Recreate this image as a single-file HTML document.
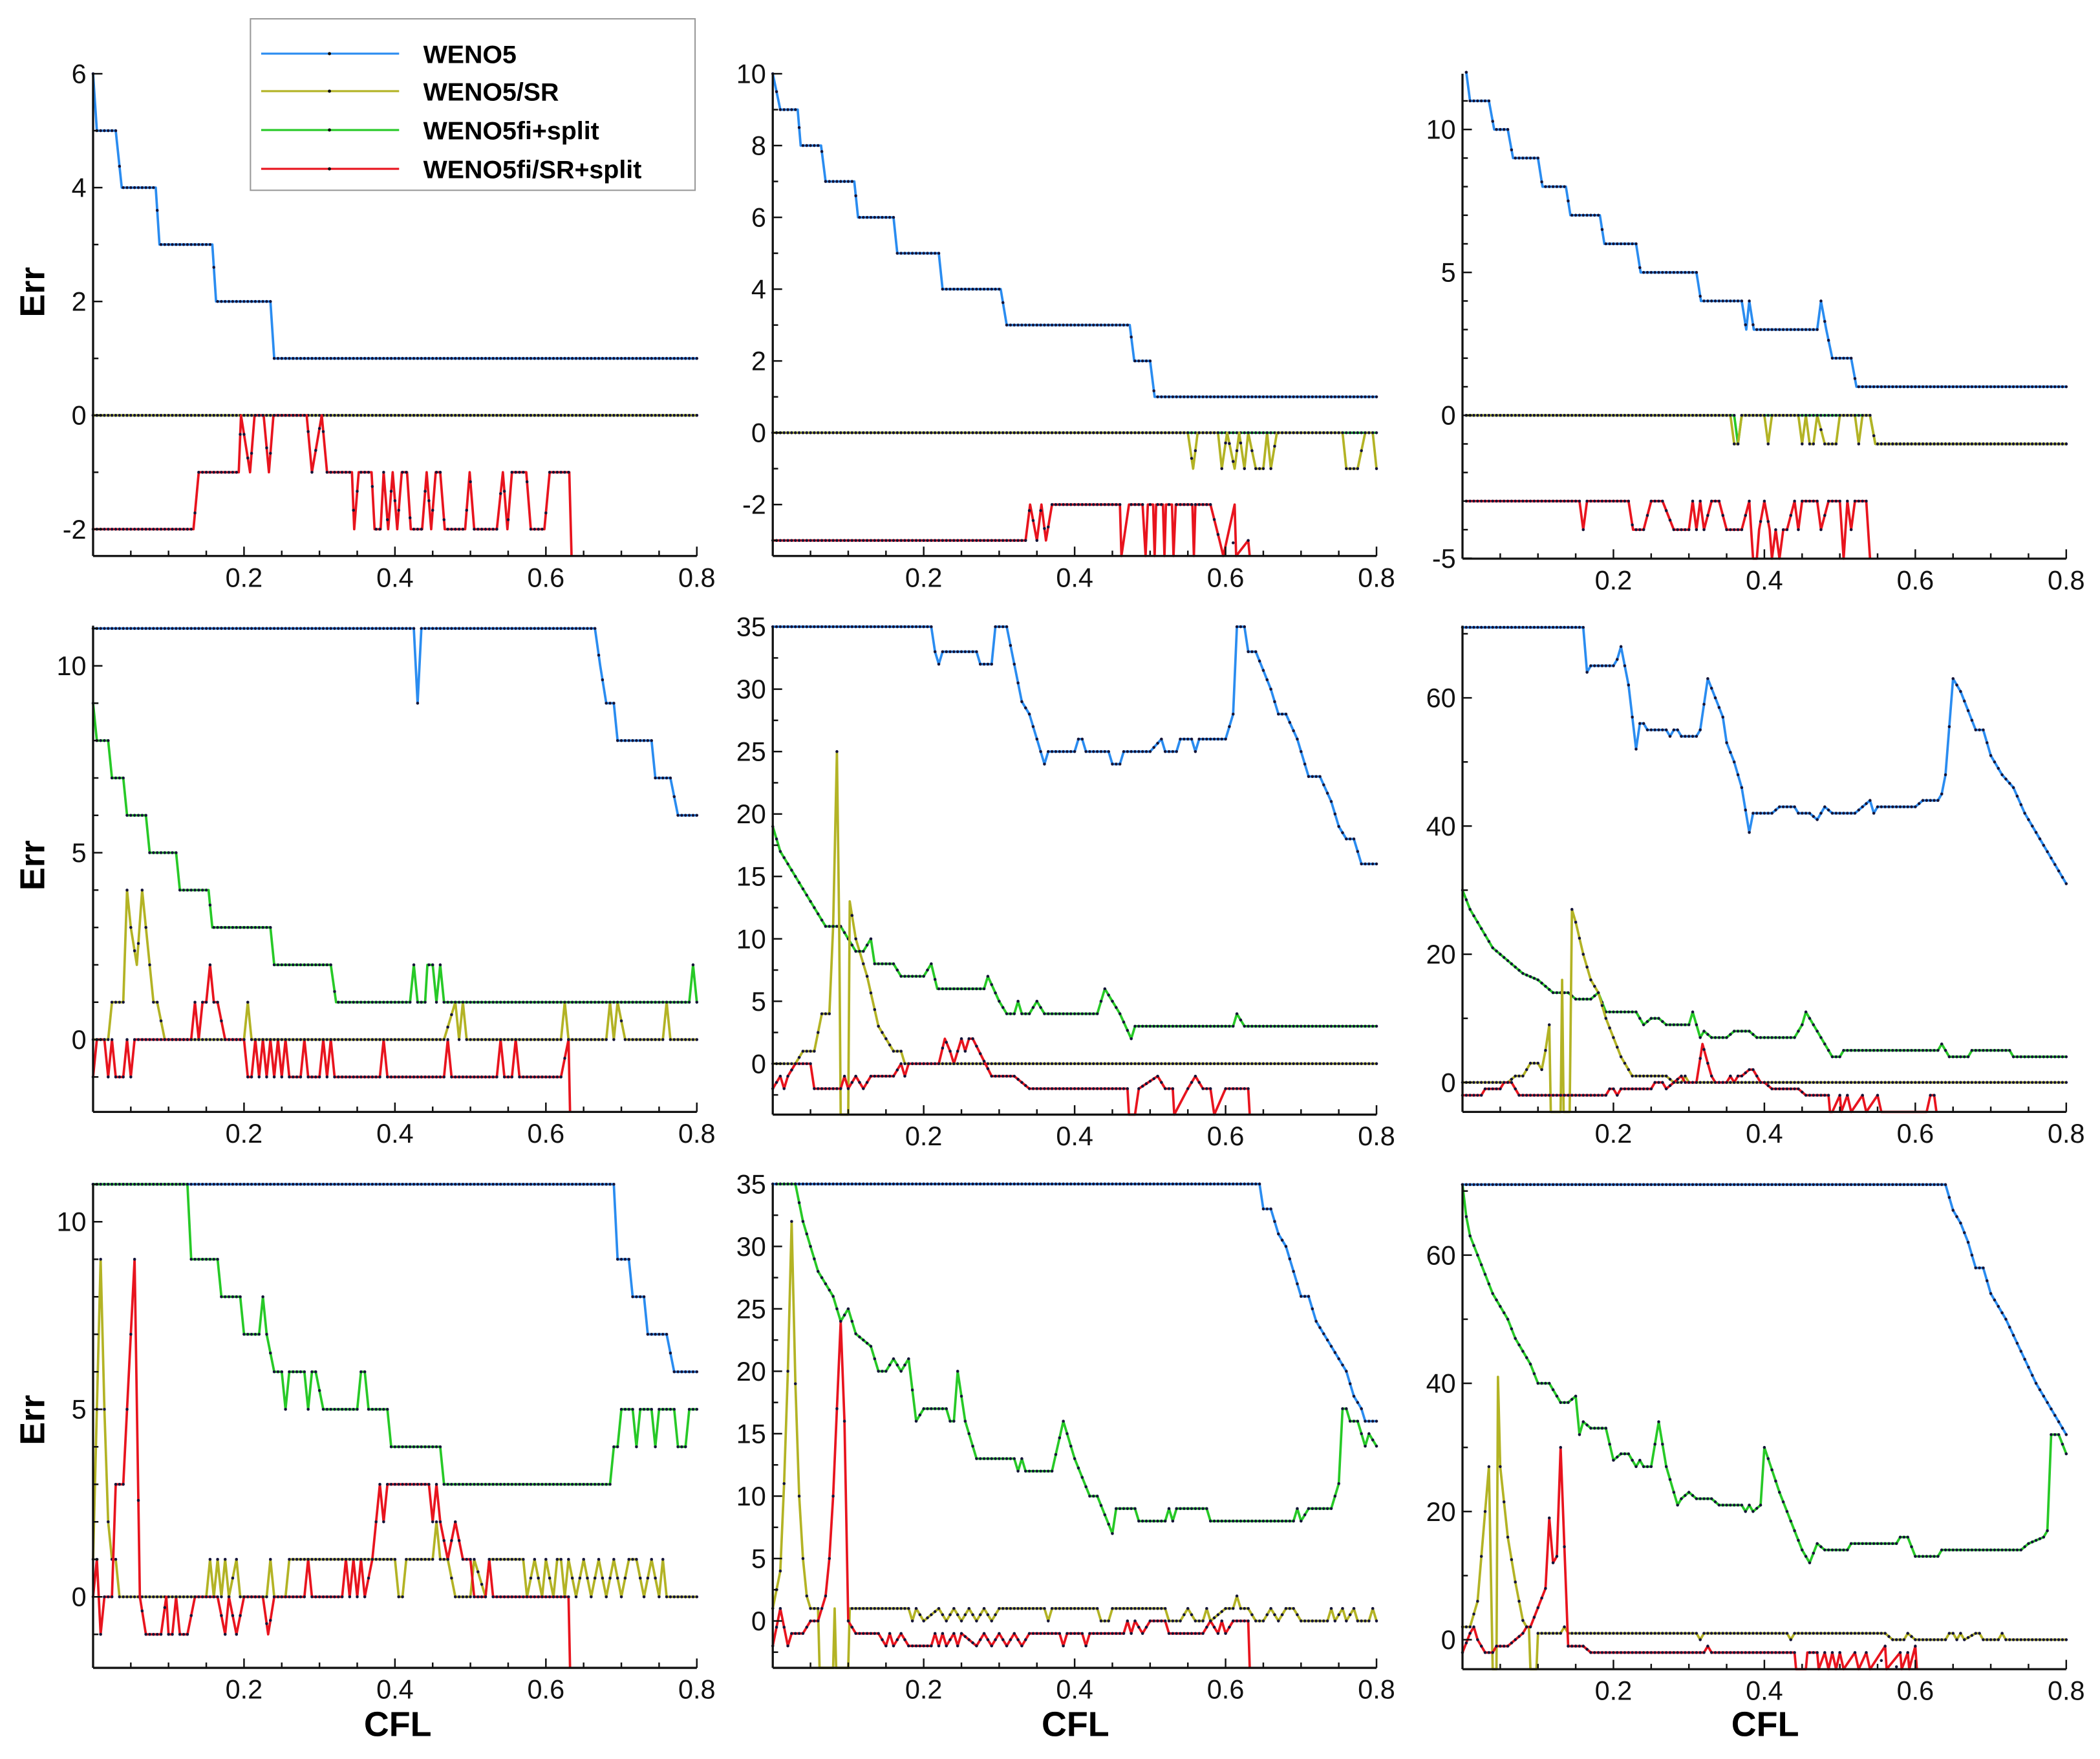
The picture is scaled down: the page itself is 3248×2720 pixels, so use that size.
<!DOCTYPE html>
<html><head><meta charset="utf-8">
<style>
html,body{margin:0;padding:0;background:#fff;width:3248px;height:2720px;overflow:hidden;}
svg{display:block;position:absolute;left:0;top:0;overflow:hidden;}
text{font-family:"Liberation Sans",Arial,sans-serif;}
</style></head>
<body>
<svg id="fig" width="3248" height="2720" viewBox="0 0 1568 1313" xmlns="http://www.w3.org/2000/svg">
<rect x="0" y="0" width="1568" height="1313" fill="#fff"/>
<g id="panels"></g>
<g id="legend">
  <rect x="187" y="14" width="332" height="128" fill="#fff" stroke="#999" stroke-width="1"/>
  <g><line x1="195" y1="40" x2="298" y2="40" stroke="#2a8cf0" stroke-width="1.5"/><circle cx="246" cy="40" r="1.2" fill="#111"/><text x="316" y="47" font-size="19" font-weight="bold">WENO5</text></g>
  <g><line x1="195" y1="68" x2="298" y2="68" stroke="#b3b325" stroke-width="1.5"/><circle cx="246" cy="68" r="1.2" fill="#111"/><text x="316" y="75" font-size="19" font-weight="bold">WENO5/SR</text></g>
  <g><line x1="195" y1="97" x2="298" y2="97" stroke="#27c927" stroke-width="1.5"/><circle cx="246" cy="97" r="1.2" fill="#111"/><text x="316" y="104" font-size="19" font-weight="bold">WENO5fi+split</text></g>
  <g><line x1="195" y1="126" x2="298" y2="126" stroke="#e8141e" stroke-width="1.5"/><circle cx="246" cy="126" r="1.2" fill="#111"/><text x="316" y="133" font-size="19" font-weight="bold">WENO5fi/SR+split</text></g>
</g>
<text x="0" y="0" font-size="26" font-weight="bold" text-anchor="middle" transform="translate(33,218) rotate(-90)">Err</text>
<text x="0" y="0" font-size="26" font-weight="bold" text-anchor="middle" transform="translate(33,646) rotate(-90)">Err</text>
<text x="0" y="0" font-size="26" font-weight="bold" text-anchor="middle" transform="translate(33,1060) rotate(-90)">Err</text>
<text x="297" y="1296" font-size="26" font-weight="bold" text-anchor="middle">CFL</text>
<text x="803" y="1296" font-size="26" font-weight="bold" text-anchor="middle">CFL</text>
<text x="1318" y="1296" font-size="26" font-weight="bold" text-anchor="middle">CFL</text>
</svg>
<script>
// ---- data: [CFL, Err] pairs ----
const xTicks = [0.2, 0.4, 0.6, 0.8];
const xTickLabels = ["0.2", "0.4", "0.6", "0.8"];

const p1Weno5 = [[0,6],[0.005,5],[0.03,5],[0.038,4],[0.083,4],[0.088,3],[0.158,3],[0.163,2],[0.235,2],[0.24,1],[0.8,1]];
const p1SR = [[0,0],[0.8,0]];
const p1Split = [[0,0],[0.8,0]];
const p1SRSplit = [[0,-2],[0.133,-2],[0.14,-1],[0.193,-1],[0.196,0],[0.208,-1],[0.214,0],[0.226,0],[0.233,-1],[0.239,0],[0.283,0],[0.29,-1],[0.303,0],[0.31,-1],[0.343,-1],[0.346,-2],[0.352,-1],[0.369,-1],[0.373,-2],[0.381,-2],[0.385,-1],[0.391,-2],[0.397,-1],[0.403,-2],[0.409,-1],[0.416,-1],[0.421,-2],[0.436,-2],[0.442,-1],[0.448,-2],[0.454,-1],[0.46,-1],[0.466,-2],[0.493,-2],[0.499,-1],[0.505,-2],[0.535,-2],[0.543,-1],[0.549,-2],[0.555,-1],[0.574,-1],[0.58,-2],[0.598,-2],[0.605,-1],[0.631,-1],[0.634,-10]];
const p1YTicks = [-2,0,2,4,6];

const p2Weno5 = [[0,10],[0.01,9],[0.033,9],[0.037,8],[0.064,8],[0.07,7],[0.108,7],[0.113,6],[0.16,6],[0.165,5],[0.22,5],[0.225,4],[0.302,4],[0.31,3],[0.473,3],[0.479,2],[0.5,2],[0.506,1],[0.8,1]];
const p2SR = [[0,0],[0.55,0],[0.557,-1],[0.563,0],[0.59,0],[0.595,-1],[0.602,0],[0.612,-1],[0.618,0],[0.625,-1],[0.63,0],[0.64,-1],[0.65,-1],[0.655,0],[0.66,-1],[0.668,0],[0.755,0],[0.76,-1],[0.775,-1],[0.785,0],[0.795,0],[0.8,-1]];
const p2Split = [[0,0],[0.8,0]];
const p2SRSplit = [[0,-3],[0.335,-3],[0.341,-2],[0.35,-3],[0.356,-2],[0.362,-3],[0.37,-2],[0.46,-2],[0.462,-10],[0.472,-2],[0.49,-2],[0.494,-10],[0.497,-2],[0.504,-2],[0.506,-10],[0.508,-2],[0.517,-2],[0.519,-10],[0.521,-2],[0.529,-2],[0.531,-10],[0.534,-2],[0.556,-2],[0.558,-10],[0.56,-2],[0.57,-2],[0.58,-2],[0.592,-3],[0.597,-10],[0.612,-2],[0.614,-10],[0.63,-3],[0.632,-10]];
const p2YTicks = [-2,0,2,4,6,8,10];

const p3Weno5 = [[0.005,12],[0.01,11],[0.035,11],[0.042,10],[0.06,10],[0.067,9],[0.1,9],[0.106,8],[0.137,8],[0.143,7],[0.182,7],[0.188,6],[0.23,6],[0.236,5],[0.31,5],[0.316,4],[0.37,4],[0.376,3],[0.38,4],[0.386,3],[0.47,3],[0.475,4],[0.482,3],[0.49,2],[0.515,2],[0.522,1],[0.8,1]];
const p3SR = [[0.005,0],[0.355,0],[0.36,-1],[0.365,-1],[0.37,0],[0.4,0],[0.405,-1],[0.41,0],[0.445,0],[0.45,-1],[0.455,0],[0.46,-1],[0.465,-1],[0.47,0],[0.48,-1],[0.495,-1],[0.5,0],[0.52,0],[0.525,-1],[0.53,0],[0.54,0],[0.547,-1],[0.8,-1]];
const p3Split = [[0.005,0],[0.36,0],[0.365,-1],[0.37,0],[0.54,0],[0.547,-1],[0.8,-1]];
const p3SRSplit = [[0.005,-3],[0.155,-3],[0.16,-4],[0.165,-3],[0.22,-3],[0.226,-4],[0.24,-4],[0.25,-3],[0.265,-3],[0.28,-4],[0.3,-4],[0.305,-3],[0.31,-4],[0.315,-3],[0.32,-4],[0.33,-3],[0.34,-3],[0.35,-4],[0.37,-4],[0.38,-3],[0.385,-10],[0.39,-10],[0.393,-4],[0.4,-3],[0.407,-4],[0.41,-10],[0.415,-4],[0.42,-10],[0.425,-4],[0.43,-4],[0.44,-3],[0.445,-4],[0.45,-3],[0.47,-3],[0.475,-4],[0.485,-3],[0.5,-3],[0.505,-10],[0.51,-3],[0.515,-4],[0.52,-3],[0.535,-3],[0.54,-10]];
const p3YTicks = [-5,0,5,10];

const p4Weno5 = [[0,11],[0.425,11],[0.43,9],[0.435,11],[0.665,11],[0.672,10],[0.68,9],[0.69,9],[0.695,8],[0.74,8],[0.745,7],[0.765,7],[0.775,6],[0.8,6]];
const p4SR = [[0,0],[0.02,0],[0.025,1],[0.04,1],[0.045,4],[0.05,3],[0.058,2],[0.065,4],[0.07,3],[0.08,1],[0.085,1],[0.095,0],[0.2,0],[0.205,1],[0.21,0],[0.465,0],[0.48,1],[0.485,0],[0.49,1],[0.495,0],[0.62,0],[0.625,1],[0.63,0],[0.68,0],[0.685,1],[0.69,0],[0.695,1],[0.705,0],[0.755,0],[0.76,1],[0.765,0],[0.8,0]];
const p4Split = [[0,9],[0.005,8],[0.02,8],[0.025,7],[0.04,7],[0.045,6],[0.07,6],[0.075,5],[0.11,5],[0.115,4],[0.153,4],[0.158,3],[0.235,3],[0.24,2],[0.315,2],[0.322,1],[0.42,1],[0.425,2],[0.43,1],[0.44,1],[0.443,2],[0.45,2],[0.455,1],[0.46,2],[0.465,1],[0.79,1],[0.795,2],[0.8,1]];
const p4SRSplit = [[0,-1],[0.005,0],[0.015,0],[0.02,-1],[0.025,0],[0.03,-1],[0.04,-1],[0.045,0],[0.05,-1],[0.055,0],[0.13,0],[0.135,1],[0.14,0],[0.145,1],[0.15,1],[0.155,2],[0.16,1],[0.165,1],[0.175,0],[0.2,0],[0.205,-1],[0.21,-1],[0.215,0],[0.22,-1],[0.225,0],[0.23,-1],[0.235,0],[0.24,-1],[0.245,0],[0.25,-1],[0.255,0],[0.26,-1],[0.275,-1],[0.28,0],[0.285,-1],[0.3,-1],[0.305,0],[0.31,-1],[0.315,0],[0.32,-1],[0.38,-1],[0.385,0],[0.39,-1],[0.465,-1],[0.47,0],[0.475,-1],[0.535,-1],[0.54,0],[0.545,-1],[0.555,-1],[0.56,0],[0.565,-1],[0.62,-1],[0.63,0],[0.632,-10]];
const p4YTicks = [0,5,10];

const p5Weno5 = [[0,35],[0.21,35],[0.215,33],[0.22,32],[0.225,33],[0.27,33],[0.275,32],[0.29,32],[0.295,35],[0.31,35],[0.32,32],[0.33,29],[0.34,28],[0.35,26],[0.36,24],[0.365,25],[0.4,25],[0.405,26],[0.41,26],[0.415,25],[0.445,25],[0.45,24],[0.46,24],[0.465,25],[0.5,25],[0.515,26],[0.52,25],[0.535,25],[0.54,26],[0.555,26],[0.56,25],[0.565,26],[0.6,26],[0.605,27],[0.61,28],[0.615,35],[0.625,35],[0.63,33],[0.64,33],[0.66,30],[0.67,28],[0.68,28],[0.695,26],[0.71,23],[0.725,23],[0.74,21],[0.75,19],[0.76,18],[0.77,18],[0.78,16],[0.8,16]];
const p5SR = [[0,0],[0.03,0],[0.04,1],[0.055,1],[0.065,4],[0.075,4],[0.08,11],[0.085,25],[0.088,11],[0.09,-10],[0.1,-10],[0.102,13],[0.11,10],[0.125,7],[0.14,3],[0.15,2],[0.16,1],[0.17,1],[0.175,0],[0.8,0]];
const p5Split = [[0,19],[0.01,17],[0.02,16],[0.03,15],[0.04,14],[0.05,13],[0.06,12],[0.07,11],[0.09,11],[0.1,10],[0.11,9],[0.12,9],[0.13,10],[0.135,8],[0.16,8],[0.17,7],[0.2,7],[0.21,8],[0.218,6],[0.28,6],[0.285,7],[0.3,5],[0.31,4],[0.32,4],[0.325,5],[0.33,4],[0.34,4],[0.35,5],[0.36,4],[0.43,4],[0.44,6],[0.45,5],[0.46,4],[0.475,2],[0.48,3],[0.61,3],[0.615,4],[0.625,3],[0.8,3]];
const p5SRSplit = [[0,-2],[0.01,-1],[0.015,-2],[0.02,-1],[0.03,0],[0.05,0],[0.055,-2],[0.09,-2],[0.095,-1],[0.1,-2],[0.11,-1],[0.12,-2],[0.13,-1],[0.16,-1],[0.17,0],[0.175,-1],[0.18,0],[0.22,0],[0.228,2],[0.235,1],[0.24,0],[0.25,2],[0.255,1],[0.26,2],[0.265,2],[0.29,-1],[0.32,-1],[0.34,-2],[0.47,-2],[0.472,-10],[0.48,-10],[0.485,-2],[0.51,-1],[0.52,-2],[0.53,-2],[0.532,-10],[0.55,-2],[0.56,-1],[0.57,-2],[0.58,-2],[0.585,-10],[0.6,-2],[0.63,-2],[0.632,-10]];
const p5YTicks = [0,5,10,15,20,25,30,35];

const p6Weno5 = [[0,71],[0.16,71],[0.165,64],[0.17,65],[0.2,65],[0.205,66],[0.21,68],[0.22,62],[0.225,57],[0.23,52],[0.235,56],[0.24,56],[0.245,55],[0.27,55],[0.275,54],[0.28,55],[0.285,55],[0.29,54],[0.31,54],[0.315,55],[0.325,63],[0.335,60],[0.345,57],[0.35,53],[0.36,50],[0.37,46],[0.38,39],[0.385,42],[0.41,42],[0.42,43],[0.44,43],[0.445,42],[0.46,42],[0.47,41],[0.48,43],[0.49,42],[0.52,42],[0.53,43],[0.54,44],[0.545,42],[0.55,43],[0.6,43],[0.61,44],[0.63,44],[0.635,45],[0.64,48],[0.65,63],[0.66,61],[0.67,58],[0.68,55],[0.69,55],[0.7,51],[0.715,48],[0.73,46],[0.745,42],[0.76,39],[0.775,36],[0.79,33],[0.8,31]];
const p6SR = [[0,0],[0.06,0],[0.07,1],[0.08,1],[0.09,3],[0.1,3],[0.105,2],[0.11,5],[0.115,9],[0.117,-10],[0.13,-10],[0.132,16],[0.134,-10],[0.142,-10],[0.145,27],[0.15,25],[0.16,20],[0.17,16],[0.18,14],[0.19,10],[0.2,7],[0.21,4],[0.215,3],[0.225,1],[0.27,1],[0.28,0],[0.29,0],[0.295,1],[0.3,0],[0.8,0]];
const p6Split = [[0,30],[0.01,27],[0.02,25],[0.03,23],[0.04,21],[0.05,20],[0.06,19],[0.07,18],[0.08,17],[0.1,16],[0.12,14],[0.14,14],[0.15,13],[0.17,13],[0.18,14],[0.19,11],[0.23,11],[0.24,9],[0.25,10],[0.26,10],[0.27,9],[0.3,9],[0.305,11],[0.315,7],[0.32,8],[0.33,7],[0.35,7],[0.36,8],[0.38,8],[0.39,7],[0.44,7],[0.45,9],[0.455,11],[0.47,8],[0.49,4],[0.5,4],[0.505,5],[0.63,5],[0.635,6],[0.645,4],[0.67,4],[0.675,5],[0.725,5],[0.73,4],[0.8,4]];
const p6SRSplit = [[0,-2],[0.025,-2],[0.03,-1],[0.05,-1],[0.055,0],[0.065,0],[0.075,-2],[0.19,-2],[0.195,-1],[0.2,-1],[0.205,-2],[0.21,-1],[0.25,-1],[0.255,0],[0.265,0],[0.27,-1],[0.28,0],[0.29,1],[0.295,0],[0.31,0],[0.318,6],[0.325,3],[0.33,1],[0.335,0],[0.35,0],[0.355,1],[0.36,0],[0.365,1],[0.37,1],[0.38,2],[0.385,2],[0.395,0],[0.4,0],[0.41,-1],[0.445,-1],[0.455,-2],[0.485,-2],[0.487,-10],[0.49,-10],[0.5,-2],[0.502,-10],[0.51,-2],[0.515,-10],[0.53,-2],[0.535,-10],[0.55,-2],[0.555,-10],[0.615,-10],[0.62,-2],[0.625,-2],[0.628,-10]];
const p6YTicks = [0,20,40,60];

const p7Weno5 = [[0,11],[0.69,11],[0.695,9],[0.71,9],[0.715,8],[0.73,8],[0.735,7],[0.76,7],[0.77,6],[0.8,6]];
const p7SR = [[0,1],[0.005,5],[0.01,9],[0.015,5],[0.02,2],[0.025,1],[0.03,1],[0.035,0],[0.15,0],[0.155,1],[0.16,0],[0.165,1],[0.17,0],[0.175,1],[0.18,0],[0.19,1],[0.195,0],[0.23,0],[0.235,1],[0.24,0],[0.255,0],[0.26,1],[0.4,1],[0.405,0],[0.41,0],[0.415,1],[0.45,1],[0.455,2],[0.46,1],[0.47,1],[0.48,0],[0.5,0],[0.505,1],[0.52,0],[0.525,1],[0.57,1],[0.575,0],[0.585,1],[0.595,0],[0.6,1],[0.61,0],[0.615,1],[0.62,1],[0.625,0],[0.63,1],[0.64,0],[0.65,1],[0.66,0],[0.67,1],[0.68,0],[0.69,1],[0.7,0],[0.71,1],[0.72,1],[0.73,0],[0.74,1],[0.75,0],[0.755,1],[0.76,0],[0.8,0]];
const p7Split = [[0,11],[0.125,11],[0.13,9],[0.165,9],[0.17,8],[0.195,8],[0.2,7],[0.22,7],[0.225,8],[0.23,7],[0.24,6],[0.25,6],[0.255,5],[0.26,6],[0.28,6],[0.285,5],[0.29,6],[0.295,6],[0.305,5],[0.35,5],[0.355,6],[0.36,6],[0.365,5],[0.39,5],[0.395,4],[0.46,4],[0.465,3],[0.685,3],[0.69,4],[0.695,4],[0.7,5],[0.715,5],[0.72,4],[0.725,5],[0.74,5],[0.745,4],[0.75,5],[0.77,5],[0.775,4],[0.785,4],[0.79,5],[0.8,5]];
const p7SRSplit = [[0,0],[0.005,1],[0.01,-1],[0.015,0],[0.025,0],[0.03,3],[0.04,3],[0.045,5],[0.055,9],[0.062,0],[0.07,-1],[0.09,-1],[0.097,0],[0.1,-1],[0.105,-1],[0.11,0],[0.115,-1],[0.125,-1],[0.135,0],[0.165,0],[0.175,-1],[0.18,0],[0.19,-1],[0.2,0],[0.225,0],[0.232,-1],[0.24,0],[0.28,0],[0.285,1],[0.29,0],[0.33,0],[0.335,1],[0.34,0],[0.345,1],[0.35,0],[0.355,1],[0.36,0],[0.37,1],[0.38,3],[0.385,2],[0.39,3],[0.445,3],[0.45,2],[0.455,3],[0.46,2],[0.47,1],[0.48,2],[0.49,1],[0.5,1],[0.505,0],[0.52,0],[0.525,1],[0.53,0],[0.63,0],[0.632,-10]];
const p7YTicks = [0,5,10];

const p8Weno5 = [[0,35],[0.645,35],[0.65,33],[0.66,33],[0.67,31],[0.68,30],[0.69,28],[0.7,26],[0.71,26],[0.72,24],[0.73,23],[0.74,22],[0.75,21],[0.76,20],[0.77,18],[0.78,17],[0.785,16],[0.8,16]];
const p8SR = [[0,1],[0.01,4],[0.015,11],[0.02,20],[0.025,32],[0.03,19],[0.035,10],[0.04,5],[0.045,2],[0.05,1],[0.06,1],[0.062,-10],[0.08,-10],[0.082,1],[0.084,-10],[0.1,-10],[0.102,1],[0.18,1],[0.185,0],[0.19,1],[0.2,0],[0.22,1],[0.23,0],[0.24,1],[0.25,0],[0.26,1],[0.27,0],[0.28,1],[0.29,0],[0.3,1],[0.36,1],[0.365,0],[0.37,1],[0.43,1],[0.435,0],[0.445,0],[0.45,1],[0.52,1],[0.525,0],[0.54,0],[0.55,1],[0.56,0],[0.57,0],[0.575,1],[0.58,0],[0.6,1],[0.61,1],[0.615,2],[0.62,1],[0.63,1],[0.64,0],[0.65,0],[0.66,1],[0.67,0],[0.68,1],[0.69,1],[0.7,0],[0.735,0],[0.74,1],[0.745,0],[0.755,1],[0.76,0],[0.77,1],[0.775,0],[0.79,0],[0.795,1],[0.8,0]];
const p8Split = [[0.005,35],[0.03,35],[0.04,32],[0.05,30],[0.06,28],[0.07,27],[0.08,26],[0.09,24],[0.1,25],[0.11,23],[0.13,22],[0.14,20],[0.15,20],[0.16,21],[0.17,20],[0.18,21],[0.19,16],[0.2,17],[0.23,17],[0.235,16],[0.24,16],[0.245,20],[0.255,16],[0.27,13],[0.32,13],[0.325,12],[0.33,13],[0.335,12],[0.37,12],[0.385,16],[0.4,13],[0.42,10],[0.43,10],[0.45,7],[0.455,9],[0.48,9],[0.485,8],[0.52,8],[0.525,9],[0.53,8],[0.535,9],[0.575,9],[0.58,8],[0.69,8],[0.695,9],[0.7,8],[0.71,9],[0.74,9],[0.75,11],[0.755,17],[0.76,17],[0.765,16],[0.775,16],[0.785,14],[0.79,15],[0.8,14]];
const p8SRSplit = [[0,-2],[0.01,1],[0.02,-2],[0.025,-1],[0.04,-1],[0.05,0],[0.06,0],[0.07,2],[0.075,5],[0.08,10],[0.085,17],[0.09,24],[0.095,16],[0.1,0],[0.11,-1],[0.14,-1],[0.15,-2],[0.155,-1],[0.16,-2],[0.17,-1],[0.18,-2],[0.21,-2],[0.215,-1],[0.22,-2],[0.225,-1],[0.23,-2],[0.24,-1],[0.245,-2],[0.25,-1],[0.27,-2],[0.28,-1],[0.29,-2],[0.3,-1],[0.31,-2],[0.32,-1],[0.33,-2],[0.34,-1],[0.38,-1],[0.385,-2],[0.39,-1],[0.41,-1],[0.415,-2],[0.42,-1],[0.465,-1],[0.47,0],[0.475,-1],[0.48,0],[0.49,-1],[0.5,0],[0.52,0],[0.525,-1],[0.57,-1],[0.58,0],[0.59,-1],[0.595,0],[0.6,-1],[0.61,0],[0.63,0],[0.632,-10]];
const p8YTicks = [0,5,10,15,20,25,30,35];

const p9Weno5 = [[0,71],[0.64,71],[0.65,67],[0.66,65],[0.67,62],[0.68,58],[0.69,58],[0.7,54],[0.72,50],[0.74,45],[0.76,40],[0.78,36],[0.8,32]];
const p9SR = [[0,2],[0.01,2],[0.02,6],[0.03,20],[0.035,27],[0.04,-10],[0.045,-10],[0.047,41],[0.05,27],[0.06,16],[0.07,9],[0.08,3],[0.085,2],[0.088,2],[0.09,-10],[0.098,-10],[0.1,1],[0.13,1],[0.135,2],[0.14,1],[0.31,1],[0.315,0],[0.32,1],[0.43,1],[0.435,0],[0.44,1],[0.56,1],[0.57,0],[0.585,0],[0.59,1],[0.6,0],[0.64,0],[0.645,1],[0.65,1],[0.655,0],[0.66,1],[0.665,0],[0.68,1],[0.685,1],[0.69,0],[0.71,0],[0.715,1],[0.72,0],[0.8,0]];
const p9Split = [[0,71],[0.005,66],[0.01,63],[0.02,60],[0.03,57],[0.04,54],[0.05,52],[0.06,50],[0.07,47],[0.08,45],[0.09,43],[0.1,40],[0.115,40],[0.12,39],[0.13,37],[0.14,37],[0.15,38],[0.155,32],[0.16,34],[0.17,33],[0.19,33],[0.2,28],[0.21,29],[0.22,29],[0.23,27],[0.235,28],[0.24,27],[0.25,27],[0.26,34],[0.27,27],[0.285,21],[0.29,22],[0.3,23],[0.31,22],[0.33,22],[0.34,21],[0.37,21],[0.375,20],[0.38,21],[0.385,20],[0.395,21],[0.4,30],[0.42,23],[0.44,17],[0.45,14],[0.46,12],[0.47,15],[0.48,14],[0.51,14],[0.515,15],[0.575,15],[0.58,16],[0.59,16],[0.6,13],[0.63,13],[0.635,14],[0.74,14],[0.75,15],[0.77,16],[0.775,17],[0.78,32],[0.79,32],[0.8,29]];
const p9SRSplit = [[0,-2],[0.01,1],[0.015,2],[0.02,0],[0.03,-2],[0.04,-2],[0.045,-1],[0.06,-1],[0.07,0],[0.08,1],[0.085,2],[0.09,2],[0.1,5],[0.11,8],[0.115,19],[0.12,12],[0.125,13],[0.13,30],[0.14,-1],[0.16,-1],[0.17,-2],[0.32,-2],[0.325,-1],[0.33,-2],[0.44,-2],[0.442,-10],[0.455,-10],[0.457,-2],[0.47,-2],[0.472,-10],[0.48,-2],[0.485,-10],[0.49,-2],[0.495,-10],[0.5,-2],[0.505,-10],[0.52,-2],[0.525,-10],[0.535,-2],[0.54,-10],[0.56,-1],[0.562,-10],[0.58,-2],[0.582,-10],[0.59,-2],[0.592,-10],[0.6,-1],[0.602,-10]];
const p9YTicks = [0,20,40,60];

// ---- layout (display units) ----
const NS = "http://www.w3.org/2000/svg";
const colX0 = [69.5, 577, 1092];
const xPerUnit = 563.5;
const seriesColors = ["#2a8cf0", "#b3b325", "#27c927", "#e8141e"];
const panels = [
 {id:1,col:0,y0:310,k:42.5,top:55,bot:415,ticks:p1YTicks,minor:1,s:[p1Weno5,p1SR,p1Split,p1SRSplit]},
 {id:2,col:1,y0:323,k:26.8,top:55,bot:415,ticks:p2YTicks,minor:1,s:[p2Weno5,p2SR,p2Split,p2SRSplit]},
 {id:3,col:2,y0:310,k:21.34,top:55,bot:417,ticks:p3YTicks,minor:1,s:[p3Weno5,p3SR,p3Split,p3SRSplit]},
 {id:4,col:0,y0:776,k:27.9,top:467,bot:830,ticks:p4YTicks,minor:1,s:[p4Weno5,p4SR,p4Split,p4SRSplit]},
 {id:5,col:1,y0:794,k:9.32,top:468,bot:832,ticks:p5YTicks,minor:2.5,s:[p5Weno5,p5SR,p5Split,p5SRSplit]},
 {id:6,col:2,y0:808,k:4.785,top:467,bot:830,ticks:p6YTicks,minor:10,s:[p6Weno5,p6SR,p6Split,p6SRSplit]},
 {id:7,col:0,y0:1192,k:28,top:884,bot:1245,ticks:p7YTicks,minor:1,s:[p7Weno5,p7SR,p7Split,p7SRSplit]},
 {id:8,col:1,y0:1210,k:9.32,top:884,bot:1245,ticks:p8YTicks,minor:2.5,s:[p8Weno5,p8SR,p8Split,p8SRSplit]},
 {id:9,col:2,y0:1224,k:4.785,top:884,bot:1246,ticks:p9YTicks,minor:10,s:[p9Weno5,p9SR,p9Split,p9SRSplit]}
];
const seriesNames = ["weno5","weno5-sr","weno5fi-split","weno5fi-sr-split"];
const drawOrder = [0,2,1,3];

function mk(tag, attrs){ const e=document.createElementNS(NS,tag); for(const k in attrs) e.setAttribute(k,attrs[k]); return e; }
const root = document.getElementById("panels");

panels.forEach(p=>{
  const x0 = colX0[p.col];
  const xs = v => x0 + v*xPerUnit;
  // y scale, clamped to the plot area so off-scale drops stop at the axis
  const ys = v => Math.max(p.top-3, Math.min(p.bot, p.y0 - v*p.k));
  const g = mk("g",{});
  
  
  root.appendChild(g);
  const plot = mk("g",{});
  g.appendChild(plot);
  drawOrder.forEach(si=>{
    const data = p.s[si];
    const line = mk("polyline",{points:data.map(d=>xs(d[0]).toFixed(2)+","+ys(d[1]).toFixed(2)).join(" "),fill:"none",stroke:seriesColors[si],"stroke-width":"1.8","stroke-linejoin":"round"});
    
    
    plot.appendChild(line);
    const mg = mk("g",{fill:"#141438"});
    
    
    const xa = data[0][0], xb = data[data.length-1][0];
    let j = 0;
    for(let x = Math.ceil(xa/0.005)*0.005; x <= xb+1e-9; x += 0.005){
      while(j < data.length-2 && data[j+1][0] < x) j++;
      const a = data[j], b = data[j+1] || a;
      const t = b[0]===a[0] ? 0 : (x-a[0])/(b[0]-a[0]);
      const v = a[1] + (b[1]-a[1])*Math.max(0,Math.min(1,t));
      const py = p.y0 - v*p.k;
      if(py > p.bot || py < p.top-4) continue;
      mg.appendChild(mk("circle",{cx:xs(x).toFixed(2),cy:py.toFixed(2),r:"1.1"}));
    }
    plot.appendChild(mg);
  });
  const ax = mk("g",{stroke:"#111","stroke-width":"1.6",fill:"none"});
  
  
  ax.appendChild(mk("line",{x1:x0,y1:p.top,x2:x0,y2:p.bot}));
  ax.appendChild(mk("line",{x1:x0,y1:p.bot,x2:xs(0.8),y2:p.bot}));
  for(let m=0.05; m<0.8+1e-9; m+=0.05){
    const major = Math.abs(m/0.2-Math.round(m/0.2))<1e-6;
    ax.appendChild(mk("line",{x1:xs(m),y1:p.bot,x2:xs(m),y2:p.bot-(major?7:4),"stroke-width":"1.2"}));
  }
  const yMin = (p.bot-p.y0)/-p.k, yMax = (p.y0-p.top)/p.k;
  for(let m=Math.ceil(yMin/p.minor)*p.minor; m<=yMax+1e-9; m+=p.minor){
    const major = p.ticks.some(t=>Math.abs(t-m)<1e-6);
    ax.appendChild(mk("line",{x1:x0,y1:p.y0-m*p.k,x2:x0+(major?7:4),y2:p.y0-m*p.k,"stroke-width":"1.2"}));
  }
  g.appendChild(ax);
  xTicks.forEach((t,i)=>{
    const tx = mk("text",{x:xs(t),y:p.bot+23,"font-size":"20","text-anchor":"middle",fill:"#111"});
    tx.textContent = xTickLabels[i];
    
    
    g.appendChild(tx);
  });
  p.ticks.forEach(t=>{
    const tx = mk("text",{x:x0-5,y:p.y0-t*p.k+7,"font-size":"20","text-anchor":"end",fill:"#111"});
    tx.textContent = String(t);
    
    
    g.appendChild(tx);
  });
});
</script>
</body></html>
